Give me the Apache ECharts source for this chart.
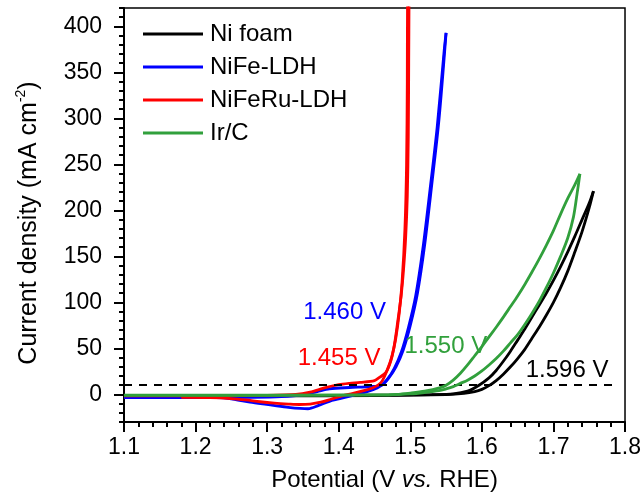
<!DOCTYPE html>
<html>
<head>
<meta charset="utf-8">
<script src="https://cdn.jsdelivr.net/npm/echarts@6/dist/echarts.min.js"></script>
<style>
  html, body { margin: 0; padding: 0; background: #fff; }
  #chart { width: 644px; height: 497px; }
</style>
</head>
<body>
<div id="chart"></div>
<script>
// Polarization (CV) curves: potential (V vs. RHE), current density (mA cm^-2)
const seriesNames = ['Ni foam', 'NiFe-LDH', 'NiFeRu-LDH', 'Ir/C'];
const seriesColors = ['#000000', '#0000ff', '#ff0000', '#31a03c'];
// potential needed to reach the reference current density
const onsetPotentials = [1.596, 1.460, 1.455, 1.550];
const refCurrent = 10;
const refLineEnd = 1.782;

const xTickValues = [1.1, 1.2, 1.3, 1.4, 1.5, 1.6, 1.7, 1.8];
const yTickValues = [0, 50, 100, 150, 200, 250, 300, 350, 400];

const niFoam = [
  [1.10, -1.0], [1.20, -1.0], [1.30, -1.0], [1.40, -1.0], [1.48, -0.8], [1.53, -0.3],
  [1.56, 0.5], [1.58, 3.5], [1.596, 10], [1.61, 18], [1.62, 26], [1.63, 36], [1.64, 47],
  [1.65, 59], [1.66, 71], [1.67, 84], [1.68, 97], [1.69, 110], [1.70, 124], [1.71, 139],
  [1.72, 155], [1.73, 172], [1.74, 190], [1.75, 208], [1.7559, 221],
  [1.75, 203], [1.74, 177], [1.73, 155], [1.72, 134], [1.71, 116], [1.70, 100],
  [1.69, 86], [1.68, 73], [1.67, 61], [1.66, 49], [1.65, 39], [1.64, 30], [1.63, 22],
  [1.62, 15], [1.61, 9.5], [1.60, 5.5], [1.59, 3], [1.575, 1], [1.55, -0.3],
  [1.45, -1.3], [1.30, -1.5], [1.10, -1.5]
];

const niFeLDH = [
  [1.10, -3.5], [1.20, -3.5], [1.28, -3.2], [1.32, -2.5], [1.35, -0.5], [1.37, 3],
  [1.387, 6], [1.415, 7.5], [1.443, 8.5], [1.46, 10], [1.47, 18], [1.48, 30], [1.49, 48],
  [1.50, 75], [1.51, 110], [1.52, 162], [1.53, 228], [1.54, 298], [1.55, 393],
  [1.5475, 375], [1.5375, 290], [1.5275, 222], [1.5175, 158], [1.5075, 107],
  [1.4975, 73], [1.4875, 46], [1.4775, 28], [1.4675, 16], [1.458, 9],
  [1.448, 5], [1.435, 2], [1.42, -1], [1.40, -5], [1.387, -7.5], [1.372, -12],
  [1.357, -15.6], [1.327, -13.8], [1.299, -10.9], [1.276, -8.4], [1.252, -5],
  [1.229, -3.5], [1.20, -3.5], [1.10, -3.5]
];

const niFeRuLDH = [
  [1.10, -1.5], [1.20, -1.5], [1.30, -1], [1.34, 0], [1.36, 2.5], [1.38, 7],
  [1.40, 10.5], [1.415, 12], [1.43, 13], [1.45, 15], [1.457, 18.5], [1.466, 24],
  [1.473, 37], [1.478, 55], [1.4826, 80], [1.4873, 108], [1.4905, 135], [1.4935, 170],
  [1.4958, 215], [1.4972, 280], [1.4978, 360], [1.4983, 440],
  [1.4962, 440], [1.4958, 340], [1.4948, 250], [1.4925, 180], [1.4885, 122],
  [1.4845, 88], [1.4795, 60], [1.4745, 42], [1.468, 27], [1.461, 15], [1.455, 10],
  [1.447, 7], [1.435, 4], [1.42, 1], [1.405, -1.5], [1.39, -5], [1.375, -8.5],
  [1.36, -10.5], [1.345, -11], [1.33, -10.5], [1.31, -9.5], [1.29, -8], [1.27, -6],
  [1.25, -4.5], [1.22, -3.5], [1.18, -3.2]
];

const irC = [
  [1.10, -0.8], [1.30, -0.8], [1.46, -0.6], [1.48, 0], [1.50, 1.5], [1.52, 3.5],
  [1.5407, 7], [1.55, 10], [1.56, 15.5], [1.57, 23], [1.58, 32], [1.59, 42], [1.60, 52],
  [1.61, 62.5], [1.62, 73], [1.63, 84], [1.64, 95.5], [1.65, 107], [1.66, 119.5],
  [1.67, 133], [1.68, 147], [1.69, 162], [1.70, 178], [1.71, 196], [1.72, 213],
  [1.73, 228], [1.737, 239.7],
  [1.733, 218], [1.728, 193], [1.72, 170], [1.71, 150], [1.70, 132], [1.69, 116],
  [1.68, 101], [1.67, 88], [1.66, 76], [1.65, 65], [1.64, 56], [1.63, 47], [1.62, 39],
  [1.61, 32], [1.60, 25.5], [1.59, 20], [1.58, 15.5], [1.57, 12], [1.56, 8.5],
  [1.55, 6], [1.54, 4], [1.52, 2], [1.50, 0.5], [1.47, -0.5], [1.30, -1], [1.10, -1]
];

const curveData = [niFoam, niFeLDH, niFeRuLDH, irC];
// where each onset-potential note sits, in axis units
const notePositions = [[1.7191, 26.5], [1.4082, 89.6], [1.4005, 39.6], [1.5497, 52.6]];

const FONT = '"Liberation Sans", Arial, Helvetica, sans-serif';
const chart = echarts.init(document.getElementById('chart'), null, { renderer: 'canvas' });

// split a cyclic sweep into its anodic and cathodic branches at the vertex potential
function splitSweep(points) {
  let k = 0;
  points.forEach((p, j) => { if (p[0] > points[k][0]) k = j; });
  return [points.slice(0, k + 1), points.slice(k)];
}

const series = [];
seriesNames.forEach((name, i) => {
  const branches = splitSweep(curveData[i]);
  branches.forEach((branch, b) => {
    const s = {
      name: name,
      type: 'line',
      xAxisIndex: 0,
      yAxisIndex: 0,
      data: branch,
      showSymbol: false,
      symbol: 'none',
      smooth: 0.3,
      clip: true,
      color: seriesColors[i],
      lineStyle: { color: seriesColors[i], width: 2.8 },
      z: 2 + i
    };
    if (b === 0) {
      s.markPoint = {
        symbol: 'circle',
        symbolSize: 0,
        silent: true,
        data: [{ coord: notePositions[i] }],
        label: {
          show: true,
          position: 'inside',
          formatter: onsetPotentials[i].toFixed(3) + ' V',
          color: seriesColors[i],
          fontFamily: FONT,
          fontSize: 24
        }
      };
    }
    if (i === 0 && b === 0) {
      s.markLine = {
        silent: true,
        symbol: ['none', 'none'],
        label: { show: false },
        lineStyle: { color: '#000', width: 1.8, type: [8, 7] },
        data: [[{ coord: [xTickValues[0], refCurrent] }, { coord: [refLineEnd, refCurrent] }]]
      };
    }
    series.push(s);
  });
});

const tickStyle = { color: '#000', width: 2 };

chart.setOption({
  animation: false,
  backgroundColor: '#ffffff',
  grid: [
    { left: 124, top: 8, width: 502, height: 414, show: true, borderColor: '#000', borderWidth: 1.5, backgroundColor: 'transparent' },
    { left: 124, top: 26.4, width: 502, height: 368, show: false }
  ],
  legend: {
    data: seriesNames,
    orient: 'vertical',
    left: 143,
    top: 22,
    padding: 0,
    itemWidth: 60,
    itemHeight: 3,
    itemGap: 9,
    icon: 'rect',
    textStyle: { fontFamily: FONT, fontSize: 24, color: '#000', padding: [0, 0, 0, 2] }
  },
  xAxis: [
    {
      gridIndex: 0,
      type: 'value',
      min: xTickValues[0],
      max: xTickValues[xTickValues.length - 1],
      interval: 0.1,
      axisLine: { onZero: false, lineStyle: { color: '#000', width: 2 } },
      axisTick: { length: 10, lineStyle: tickStyle },
      minorTick: { show: true, splitNumber: 5, length: 5, lineStyle: tickStyle },
      splitLine: { show: false },
      axisLabel: { fontFamily: FONT, fontSize: 23, color: '#000', margin: 14, formatter: v => v.toFixed(1) },
      name: '{a|Potential (V }{i|vs.}{a| RHE)}',
      nameLocation: 'middle',
      nameGap: 46,
      nameTextStyle: {
        padding: [0, 0, 0, 20],
        rich: {
          a: { fontFamily: FONT, fontSize: 24, color: '#000' },
          i: { fontFamily: FONT, fontSize: 24, color: '#000', fontStyle: 'italic' }
        }
      }
    },
    { gridIndex: 1, type: 'value', min: xTickValues[0], max: xTickValues[xTickValues.length - 1], show: false }
  ],
  yAxis: [
    {
      gridIndex: 0,
      type: 'value',
      min: -30,
      max: 420,
      interval: 10,
      axisLine: { show: true, onZero: false, lineStyle: { color: '#000', width: 2 } },
      axisTick: { length: 5, lineStyle: tickStyle },
      axisLabel: { show: false },
      splitLine: { show: false },
      name: '{a|Current density (mA cm}{s|-2}{a|)}',
      nameLocation: 'middle',
      nameGap: 80,
      nameRotate: 90,
      nameTextStyle: {
        padding: [0, 16, 0, 0],
        rich: {
          a: { fontFamily: FONT, fontSize: 25, color: '#000', lineHeight: 30 },
          s: { fontFamily: FONT, fontSize: 14, color: '#000', lineHeight: 14, verticalAlign: 'top' }
        }
      }
    },
    {
      gridIndex: 1,
      type: 'value',
      min: yTickValues[0],
      max: yTickValues[yTickValues.length - 1],
      interval: 50,
      axisLine: { show: false, onZero: false },
      axisTick: { show: true, length: 10, lineStyle: tickStyle },
      axisLabel: { fontFamily: FONT, fontSize: 23, color: '#000', margin: 22 },
      splitLine: { show: false }
    }
  ],
  series: series
});
</script>
</body>
</html>
